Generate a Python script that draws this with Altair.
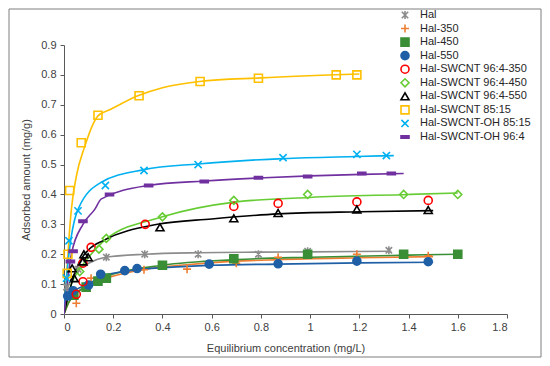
import altair as alt
import pandas as pd

series = ["Hal", "Hal-350", "Hal-450", "Hal-550", "Hal-SWCNT 96:4-350",
          "Hal-SWCNT 96:4-450", "Hal-SWCNT 96:4-550", "Hal-SWCNT 85:15",
          "Hal-SWCNT-OH 85:15", "Hal-SWCNT-OH 96:4"]

colors = ["#8C8C8C", "#ED7D31", "#3A8E35", "#1F5FA6", "#FF0000",
          "#66CC33", "#000000", "#FFC000", "#00B0F0", "#7030A0"]

# measured points (x: Ce mg/L, y: adsorbed mg/g)
pts = {
    "Hal": ([0.01, 0.057, 0.172, 0.328, 0.545, 0.79, 0.99, 1.32],
            [0.09, 0.15, 0.19, 0.20, 0.20, 0.20, 0.21, 0.213]),
    "Hal-350": ([0.05, 0.11, 0.325, 0.5, 0.7, 0.87, 1.19, 1.48],
                [0.036, 0.12, 0.148, 0.15, 0.17, 0.19, 0.20, 0.195]),
    "Hal-450": ([0.04, 0.09, 0.138, 0.172, 0.4, 0.69, 0.99, 1.38, 1.6],
                [0.063, 0.09, 0.11, 0.12, 0.163, 0.185, 0.20, 0.20, 0.20]),
    "Hal-550": ([0.015, 0.037, 0.1, 0.149, 0.247, 0.297, 0.59, 0.87, 1.19, 1.48],
                [0.06, 0.078, 0.097, 0.133, 0.145, 0.152, 0.167, 0.168, 0.177, 0.175]),
    "Hal-SWCNT 96:4-350": ([0.05, 0.077, 0.077, 0.11, 0.33, 0.69, 0.87, 1.19, 1.48],
                           [0.066, 0.108, 0.17, 0.223, 0.30, 0.36, 0.37, 0.375, 0.38]),
    "Hal-SWCNT 96:4-450": ([0.064, 0.142, 0.172, 0.4, 0.69, 0.99, 1.38, 1.6],
                           [0.142, 0.217, 0.253, 0.325, 0.38, 0.40, 0.40, 0.40]),
    "Hal-SWCNT 96:4-550": ([0.033, 0.041, 0.077, 0.081, 0.098, 0.39, 0.69, 0.87, 1.19, 1.48],
                           [0.153, 0.12, 0.176, 0.20, 0.19, 0.29, 0.32, 0.338, 0.35, 0.348]),
    "Hal-SWCNT 85:15": ([0.013, 0.016, 0.023, 0.07, 0.138, 0.305, 0.553, 0.79, 1.106, 1.19],
                        [0.136, 0.20, 0.413, 0.573, 0.665, 0.73, 0.778, 0.789, 0.80, 0.80]),
    "Hal-SWCNT-OH 85:15": ([0.01, 0.02, 0.057, 0.168, 0.325, 0.545, 0.89, 1.19, 1.31],
                           [0.12, 0.245, 0.345, 0.43, 0.48, 0.50, 0.523, 0.534, 0.53]),
    "Hal-SWCNT-OH 96:4": ([0.026, 0.037, 0.077, 0.185, 0.344, 0.57, 0.79, 0.99, 1.21, 1.33],
                          [0.176, 0.21, 0.31, 0.40, 0.43, 0.443, 0.456, 0.46, 0.47, 0.47]),
}

# fitted curves
curves = {
    "Hal": ([0, 0.01, 0.02, 0.05, 0.1, 0.17, 0.33, 0.55, 0.8, 1.0, 1.33],
            [0, 0.07, 0.1, 0.14, 0.17, 0.19, 0.20, 0.205, 0.207, 0.208, 0.21]),
    "Hal-350": ([0, 0.02, 0.05, 0.1, 0.17, 0.33, 0.5, 0.6, 0.87, 1.2, 1.5],
                [0, 0.04, 0.07, 0.1, 0.12, 0.15, 0.165, 0.172, 0.182, 0.188, 0.192]),
    "Hal-450": ([0, 0.02, 0.04, 0.09, 0.14, 0.17, 0.4, 0.7, 1.0, 1.4, 1.6],
                [0, 0.04, 0.063, 0.09, 0.11, 0.125, 0.163, 0.182, 0.19, 0.197, 0.20]),
    "Hal-550": ([0, 0.015, 0.037, 0.1, 0.15, 0.25, 0.3, 0.6, 0.87, 1.2, 1.5],
                [0, 0.055, 0.075, 0.1, 0.125, 0.143, 0.148, 0.163, 0.167, 0.171, 0.173]),
    "Hal-SWCNT 96:4-450": ([0, 0.03, 0.064, 0.11, 0.17, 0.4, 0.7, 1.0, 1.4, 1.6],
                           [0, 0.1, 0.15, 0.2, 0.25, 0.325, 0.375, 0.39, 0.40, 0.405]),
    "Hal-SWCNT 96:4-550": ([0, 0.03, 0.06, 0.1, 0.165, 0.38, 0.6, 0.87, 1.2, 1.5],
                           [0, 0.1, 0.17, 0.215, 0.248, 0.30, 0.318, 0.335, 0.342, 0.346]),
    "Hal-SWCNT 85:15": ([0, 0.01, 0.02, 0.03, 0.05, 0.084, 0.138, 0.19, 0.3, 0.4, 0.55, 0.8, 1.2],
                        [0, 0.12, 0.25, 0.35, 0.46, 0.56, 0.663, 0.685, 0.73, 0.757, 0.778, 0.79, 0.803]),
    "Hal-SWCNT-OH 85:15": ([0, 0.01, 0.023, 0.057, 0.15, 0.325, 0.545, 0.89, 1.19, 1.34],
                           [0, 0.12, 0.22, 0.35, 0.44, 0.483, 0.502, 0.52, 0.527, 0.53]),
    "Hal-SWCNT-OH 96:4": ([0, 0.03, 0.077, 0.125, 0.152, 0.344, 0.57, 0.79, 1.0, 1.21, 1.38],
                          [0, 0.2, 0.3, 0.35, 0.385, 0.43, 0.445, 0.455, 0.462, 0.467, 0.47]),
}

x_ticks = [0, 0.2, 0.4, 0.6, 0.8, 1, 1.2, 1.4, 1.6, 1.8]
y_ticks = [0, 0.1, 0.2, 0.3, 0.4, 0.5, 0.6, 0.7, 0.8, 0.9]

ASTER = "M-0.8,-0.8L0.8,0.8M-0.8,0.8L0.8,-0.8M0,-1L0,1"
PLUS = "M-1,0L1,0M0,-1L0,1"
XMARK = "M-0.9,-0.9L0.9,0.9M-0.9,0.9L0.9,-0.9"
DASH = "M-1,-0.3L1,-0.3L1,0.3L-1,0.3Z"
shapes = [ASTER, PLUS, "square", "circle", "circle", "diamond",
          "triangle-up", "square", XMARK, DASH]
fills = ["transparent", "transparent", colors[2], colors[3], "transparent",
         "transparent", "transparent", "transparent", "transparent", colors[9]]

prow = []
for s in series:
    xs, ys = pts[s]
    for a, b in zip(xs, ys):
        prow.append({"series": s, "x": a, "y": b})
pdf = pd.DataFrame(prow)

crow = []
for s in series:
    if s in curves:
        xs, ys = curves[s]
        for a, b in zip(xs, ys):
            crow.append({"series": s, "x": a, "y": b})
cdf = pd.DataFrame(crow)

ldf = pd.DataFrame({"series": series})

W, H = 443, 269
PL, PT, PR, PB = 56, 37, 35, 44
FONT = "Liberation Sans"

xax = alt.Axis(values=x_ticks, format="~g", title="Equilibrium concentration (mg/L)",
               grid=False, tickSize=4, labelPadding=3, titlePadding=10, labelOverlap=False)
yax = alt.Axis(values=y_ticks, format="~g", title="Adsorbed amount (mg/g)",
               grid=False, tickSize=4, labelPadding=4, titlePadding=9, labelOverlap=False)
xsc = alt.Scale(domain=[0, 1.8], nice=False, zero=False)
ysc = alt.Scale(domain=[0, 0.9], nice=False)

stroke_enc = alt.Stroke("series:N", scale=alt.Scale(domain=series, range=colors), legend=None)
fill_enc = alt.Fill("series:N", scale=alt.Scale(domain=series, range=fills), legend=None)
shape_enc = alt.Shape("series:N", scale=alt.Scale(domain=series, range=shapes), legend=None)

lines = alt.Chart(cdf).mark_line(interpolate="monotone", strokeWidth=1.6, clip=True).encode(
    x=alt.X("x:Q", scale=xsc, axis=xax),
    y=alt.Y("y:Q", scale=ysc, axis=yax),
    stroke=stroke_enc,
)

points = alt.Chart(pdf).mark_point(filled=False, size=64, strokeWidth=1.6, opacity=1).encode(
    x=alt.X("x:Q", scale=xsc, axis=xax),
    y=alt.Y("y:Q", scale=ysc, axis=yax),
    stroke=stroke_enc, fill=fill_enc, shape=shape_enc,
)

plot = alt.layer(lines, points)

# legend drawn from the series list
ly = alt.Y("series:N", scale=alt.Scale(type="point", domain=series, range=[-30, 92], padding=0),
           axis=None)
leg_sym = alt.Chart(ldf).mark_point(filled=False, size=64, strokeWidth=1.6, opacity=1).encode(
    x=alt.value(341), y=ly, stroke=stroke_enc, fill=fill_enc, shape=shape_enc,
)
leg_txt = alt.Chart(ldf).mark_text(align="left", baseline="middle", font=FONT, fontSize=11,
                                   color="#262626").encode(
    x=alt.value(356), y=ly, text="series:N",
)
legend = alt.layer(leg_sym, leg_txt)

border = alt.Chart(pd.DataFrame({"b": [0]})).mark_rect(
    fill="transparent", stroke="#7F7F7F", strokeWidth=1).encode(
    x=alt.value(-PL + 1), x2=alt.value(W + PR - 1),
    y=alt.value(-PT + 1), y2=alt.value(H + PB - 1),
)

chart = alt.layer(plot, legend, border).resolve_scale(y="independent").properties(
    width=W, height=H,
    padding={"left": PL, "top": PT, "right": PR, "bottom": PB},
    autosize=alt.AutoSizeParams(type="none"),
).configure_view(stroke=None).configure_axis(
    labelFont=FONT, titleFont=FONT,
    labelFontSize=11, titleFontSize=11, titleFontWeight="normal",
    labelColor="#404040", titleColor="#404040",
    domainColor="#595959", tickColor="#595959",
)

chart.save("out.html", embed_options={"renderer": "svg", "actions": False})
